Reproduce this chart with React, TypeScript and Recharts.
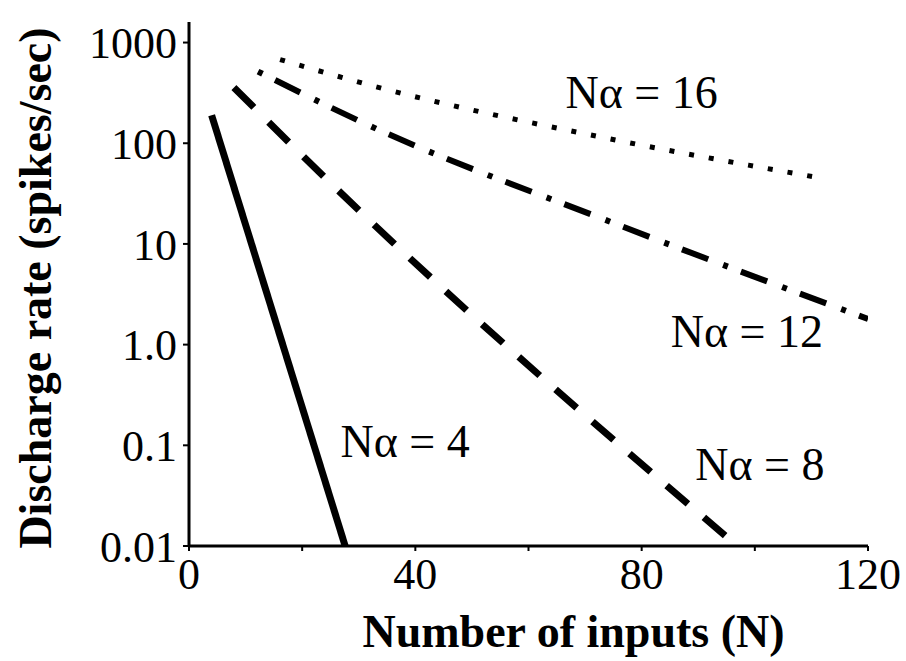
import { LineChart, Line, XAxis, YAxis, ReferenceDot } from "recharts";

// Discharge rate vs number of inputs, one curve per Nα value
const nAlpha4N = [4, 27.6];
const nAlpha4Rate = [190, 0.01];
const nAlpha8N = [7.95, 24.4, 96.9];
const nAlpha8Rate = [357, 43.5, 0.01];
const nAlpha12N = [12.2, 32.3, 73.5, 120];
const nAlpha12Rate = [515, 146, 17.4, 1.8];
const nAlpha16N = [16.1, 32.9, 73.2, 111.3];
const nAlpha16Rate = [678, 366, 114, 45.5];

const curveText = ["Nα = 16", "Nα = 12", "Nα = 8", "Nα = 4"];
const curveTextN = [80, 98.6, 100.9, 38.2];
const curveTextRate = [322, 1.37, 0.065, 0.111];

const xTicks = [0, 20, 40, 60, 80, 100, 120];
const xTickLabels = ["0", "", "40", "", "80", "", "120"];
const yTicks = [0.01, 0.1, 1, 10, 100, 1000];
const yTickLabels = ["0.01", "0.1", "1.0", "10", "100", "1000"];

const SERIF = "'Liberation Serif', 'Times New Roman', serif";

const toPoints = (ns: number[], rates: number[]) =>
  ns.map((n, i) => ({ n, rate: rates[i] }));

const series = [
  { key: "a4", data: toPoints(nAlpha4N, nAlpha4Rate), width: 7, dash: undefined },
  { key: "a8", data: toPoints(nAlpha8N, nAlpha8Rate), width: 7, dash: "28 21" },
  { key: "a12", data: toPoints(nAlpha12N, nAlpha12Rate), width: 6, dash: "5 14 28 16" },
  { key: "a16", data: toPoints(nAlpha16N, nAlpha16Rate), width: 5, dash: "5 15" },
];

export default function App() {
  return (
    <div style={{ width: 906, height: 661, background: "#fff" }}>
      <style>{`body{margin:0;background:#fff}`}</style>
      <LineChart width={906} height={661} margin={{ top: 22, right: 38, bottom: 0, left: 0 }}>
        <XAxis
          type="number"
          dataKey="n"
          domain={[0, 120]}
          ticks={xTicks}
          tickFormatter={(v: number) => xTickLabels[xTicks.indexOf(v)] ?? ""}
          allowDataOverflow
          height={115}
          axisLine={{ stroke: "#000", strokeWidth: 3 }}
          tickLine={{ stroke: "#000", strokeWidth: 2 }}
          tickSize={5}
          tickMargin={7}
          tick={{ fill: "#000", fontSize: 44, fontFamily: SERIF }}
          label={{
            content: ({ viewBox }: any) => (
              <text
                x={viewBox.x + viewBox.width / 2 + 45}
                y={647}
                textAnchor="middle"
                fontFamily={SERIF}
                fontWeight="bold"
                fontSize={46}
                fill="#000"
              >
                Number of inputs (N)
              </text>
            ),
          }}
        />
        <YAxis
          type="number"
          dataKey="rate"
          scale="log"
          domain={[0.01, 1600]}
          ticks={yTicks}
          tickFormatter={(v: number) => yTickLabels[yTicks.indexOf(v)] ?? ""}
          allowDataOverflow
          width={189}
          axisLine={{ stroke: "#000", strokeWidth: 3 }}
          tickLine={{ stroke: "#000", strokeWidth: 2 }}
          tickSize={6}
          tickMargin={6}
          tick={{ fill: "#000", fontSize: 44, fontFamily: SERIF }}
          label={{
            content: ({ viewBox }: any) => {
              const cx = 35;
              const cy = viewBox.y + viewBox.height / 2 + 4;
              return (
                <text
                  x={cx}
                  y={cy}
                  transform={`rotate(-90, ${cx}, ${cy})`}
                  textAnchor="middle"
                  dominantBaseline="central"
                  fontFamily={SERIF}
                  fontWeight="bold"
                  fontSize={46}
                  fill="#000"
                >
                  Discharge rate (spikes/sec)
                </text>
              );
            },
          }}
        />
        {series.map((s) => (
          <Line
            key={s.key}
            data={s.data}
            dataKey="rate"
            type="monotone"
            stroke="#000"
            strokeWidth={s.width}
            strokeDasharray={s.dash}
            strokeLinecap="butt"
            dot={false}
            activeDot={false}
            isAnimationActive={false}
          />
        ))}
        {curveText.map((t, i) => (
          <ReferenceDot
            key={t}
            x={curveTextN[i]}
            y={curveTextRate[i]}
            r={0}
            fill="none"
            stroke="none"
            label={{ value: t, position: "center", fill: "#000", fontSize: 46, fontFamily: SERIF }}
          />
        ))}
      </LineChart>
    </div>
  );
}
